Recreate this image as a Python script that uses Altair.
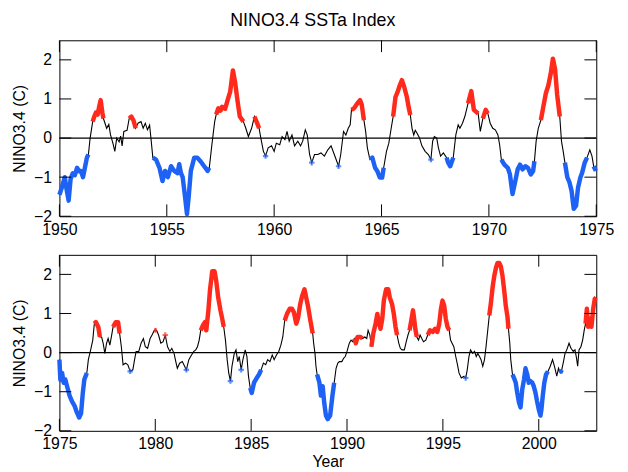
import pandas as pd
import altair as alt

# values (year, NINO3.4 anomaly in C)
top_years = [1950.00, 1950.12, 1950.25, 1950.33, 1950.43, 1950.52, 1950.62, 1950.72, 1950.82, 1950.92,
             1951.00, 1951.10, 1951.20, 1951.28, 1951.35, 1951.43, 1951.55, 1951.62, 1951.70, 1951.78,
             1951.85, 1951.92, 1952.00, 1952.05, 1952.20, 1952.30, 1952.38, 1952.50, 1952.58, 1952.67,
             1952.78, 1952.85, 1952.92, 1953.00, 1953.15, 1953.25, 1953.35, 1953.45, 1953.55, 1953.66,
             1953.80, 1953.90, 1954.00, 1954.10, 1954.20, 1954.28, 1954.35, 1954.50, 1954.66, 1954.80,
             1954.92, 1955.05, 1955.20, 1955.35, 1955.50, 1955.58, 1955.66, 1955.74, 1955.85, 1955.94,
             1956.02, 1956.12, 1956.28, 1956.42, 1956.58, 1956.74, 1956.90, 1956.98, 1957.10, 1957.23,
             1957.30, 1957.40, 1957.50, 1957.57, 1957.72, 1957.85, 1957.95, 1958.08, 1958.18, 1958.30,
             1958.40, 1958.57, 1958.68, 1958.80, 1958.95, 1959.08, 1959.18, 1959.30, 1959.38, 1959.50,
             1959.60, 1959.72, 1959.88, 1960.00, 1960.10, 1960.26, 1960.37, 1960.50, 1960.60, 1960.70,
             1960.83, 1960.95, 1961.10, 1961.23, 1961.33, 1961.45, 1961.54, 1961.65, 1961.75, 1961.88,
             1962.03, 1962.18, 1962.34, 1962.50, 1962.65, 1962.80, 1963.00, 1963.10, 1963.23, 1963.34,
             1963.45, 1963.54, 1963.60, 1963.72, 1963.88, 1964.00, 1964.08, 1964.18, 1964.26, 1964.34,
             1964.46, 1964.57, 1964.70, 1964.80, 1964.92, 1965.03, 1965.10, 1965.23, 1965.34, 1965.45,
             1965.54, 1965.65, 1965.75, 1965.85, 1965.95, 1966.06, 1966.18, 1966.26, 1966.34, 1966.42,
             1966.50, 1966.57, 1966.65, 1966.77, 1966.88, 1967.03, 1967.18, 1967.30, 1967.38, 1967.46,
             1967.57, 1967.65, 1967.75, 1967.88, 1968.03, 1968.10, 1968.20, 1968.34, 1968.46, 1968.57,
             1968.65, 1968.77, 1968.88, 1969.03, 1969.18, 1969.30, 1969.50, 1969.60, 1969.72, 1969.85,
             1969.95, 1970.06, 1970.18, 1970.30, 1970.42, 1970.50, 1970.58, 1970.72, 1970.88, 1970.98,
             1971.10, 1971.23, 1971.34, 1971.45, 1971.57, 1971.70, 1971.82, 1971.95, 1972.06, 1972.12,
             1972.20, 1972.30, 1972.42, 1972.52, 1972.65, 1972.77, 1972.88, 1972.98, 1973.08, 1973.18,
             1973.30, 1973.38, 1973.46, 1973.54, 1973.65, 1973.75, 1973.85, 1973.95, 1974.06, 1974.15,
             1974.26, 1974.34, 1974.46, 1974.57, 1974.70, 1974.80, 1974.88, 1974.98]
top_vals = [-1.45, -1.25, -1.00, -1.30, -1.60, -1.05, -0.90, -0.95, -0.76, -0.85,
            -0.84, -1.00, -0.72, -0.50, -0.42, 0.00, 0.42, 0.55, 0.65, 0.60,
            0.80, 0.97, 0.65, 0.50, 0.25, 0.35, 0.08, -0.15, -0.34, 0.00,
            -0.10, 0.05, -0.20, 0.17, 0.20, 0.50, 0.55, 0.45, 0.25, 0.38,
            0.42, 0.25, 0.38, 0.21, 0.33, -0.10, -0.50, -0.55, -0.76, -1.10,
            -0.84, -1.00, -0.72, -0.84, -0.90, -0.67, -0.90, -1.00, -1.50, -1.94,
            -1.50, -0.84, -0.50, -0.50, -0.60, -0.72, -0.84, -0.76, -0.17, 0.42,
            0.60, 0.76, 0.70, 0.80, 0.75, 1.00, 1.18, 1.73, 1.43, 0.93,
            0.55, 0.42, 0.25, 0.04, 0.25, 0.55, 0.42, 0.25, 0.00, -0.34,
            -0.46, -0.25, -0.20, -0.34, -0.13, -0.17, 0.04, -0.04, 0.17, -0.08,
            0.08, -0.20, -0.08, -0.20, -0.08, 0.21, 0.08, -0.42, -0.63, -0.42,
            -0.42, -0.38, -0.46, -0.30, -0.20, -0.42, -0.72, -0.42, 0.17, 0.08,
            0.25, 0.34, 0.72, 0.76, 0.89, 0.97, 0.85, 0.46, 0.17, -0.25,
            -0.55, -0.50, -0.76, -0.84, -1.01, -1.01, -0.76, -0.34, -0.13, 0.25,
            0.55, 1.05, 1.18, 1.35, 1.48, 1.30, 1.05, 0.80, 0.59, 0.25,
            0.08, 0.20, 0.13, 0.00, -0.20, -0.34, -0.42, -0.55, -0.08, 0.04,
            0.00, -0.25, -0.46, -0.38, -0.50, -0.63, -0.72, -0.50, 0.08, 0.34,
            0.25, 0.38, 0.55, 0.89, 1.20, 0.72, 0.63, 0.17, 0.50, 0.72,
            0.63, 0.38, 0.25, 0.21, 0.08, -0.17, -0.55, -0.68, -0.76, -0.93,
            -1.43, -1.10, -0.80, -0.68, -0.80, -0.72, -0.76, -0.93, -0.84, -0.59,
            -0.08, 0.25, 0.46, 0.76, 1.14, 1.35, 1.65, 2.03, 1.77, 1.10,
            0.55, -0.08, -0.34, -0.63, -1.00, -1.13, -1.35, -1.81, -1.73, -1.27,
            -1.01, -0.89, -0.63, -0.50, -0.30, -0.46, -0.72, -0.84]

bot_years = [1975.00, 1975.05, 1975.14, 1975.22, 1975.30, 1975.40, 1975.53, 1975.65, 1975.79, 1975.91,
             1976.03, 1976.13, 1976.22, 1976.30, 1976.43, 1976.51, 1976.63, 1976.74, 1976.82, 1976.90,
             1977.03, 1977.11, 1977.20, 1977.28, 1977.37, 1977.46, 1977.54, 1977.63, 1977.71, 1977.80,
             1977.94, 1978.06, 1978.14, 1978.23, 1978.32, 1978.45, 1978.57, 1978.69, 1978.83, 1978.92,
             1979.00, 1979.14, 1979.26, 1979.38, 1979.48, 1979.60, 1979.73, 1979.83, 1979.95, 1980.07,
             1980.17, 1980.29, 1980.41, 1980.52, 1980.64, 1980.76, 1980.86, 1980.98, 1981.07, 1981.15,
             1981.27, 1981.41, 1981.53, 1981.62, 1981.75, 1981.89, 1982.01, 1982.11, 1982.20, 1982.29,
             1982.37, 1982.49, 1982.59, 1982.66, 1982.77, 1982.85, 1982.97, 1983.09, 1983.18, 1983.28,
             1983.40, 1983.49, 1983.57, 1983.66, 1983.75, 1983.83, 1983.92, 1984.00, 1984.12, 1984.21,
             1984.30, 1984.38, 1984.48, 1984.57, 1984.69, 1984.78, 1984.86, 1984.95, 1985.03, 1985.15,
             1985.29, 1985.41, 1985.52, 1985.64, 1985.76, 1985.86, 1985.98, 1986.10, 1986.20, 1986.32,
             1986.44, 1986.55, 1986.65, 1986.75, 1986.87, 1987.01, 1987.13, 1987.23, 1987.35, 1987.44,
             1987.56, 1987.66, 1987.78, 1987.87, 1987.96, 1988.09, 1988.21, 1988.26, 1988.33, 1988.38,
             1988.44, 1988.56, 1988.64, 1988.73, 1988.81, 1988.90, 1988.99, 1989.12, 1989.24, 1989.33,
             1989.43, 1989.52, 1989.60, 1989.73, 1989.83, 1989.91, 1990.00, 1990.12, 1990.21, 1990.29,
             1990.38, 1990.46, 1990.55, 1990.69, 1990.81, 1990.93, 1991.03, 1991.10, 1991.19, 1991.27,
             1991.37, 1991.49, 1991.58, 1991.67, 1991.75, 1991.84, 1991.92, 1992.04, 1992.15, 1992.23,
             1992.35, 1992.44, 1992.53, 1992.61, 1992.70, 1992.78, 1992.87, 1992.99, 1993.09, 1993.18,
             1993.26, 1993.35, 1993.44, 1993.50, 1993.56, 1993.64, 1993.73, 1993.81, 1993.90, 1993.99,
             1994.11, 1994.21, 1994.33, 1994.47, 1994.59, 1994.71, 1994.81, 1994.90, 1994.98, 1995.07,
             1995.15, 1995.24, 1995.33, 1995.40, 1995.48, 1995.57, 1995.67, 1995.76, 1995.84, 1995.96,
             1996.08, 1996.19, 1996.27, 1996.36, 1996.44, 1996.56, 1996.65, 1996.74, 1996.82, 1996.91,
             1996.99, 1997.08, 1997.17, 1997.25, 1997.34, 1997.42, 1997.51, 1997.59, 1997.68, 1997.77,
             1997.85, 1997.94, 1998.02, 1998.11, 1998.20, 1998.28, 1998.37, 1998.42, 1998.49, 1998.54,
             1998.63, 1998.71, 1998.80, 1998.88, 1998.97, 1999.05, 1999.14, 1999.23, 1999.31, 1999.40,
             1999.48, 1999.57, 1999.66, 1999.74, 1999.83, 1999.91, 2000.00, 2000.09, 2000.14, 2000.21,
             2000.29, 2000.38, 2000.48, 2000.60, 2000.72, 2000.82, 2000.94, 2001.03, 2001.12, 2001.20,
             2001.29, 2001.37, 2001.46, 2001.58, 2001.68, 2001.80, 2001.89, 2001.97, 2002.03, 2002.10,
             2002.20, 2002.29, 2002.37, 2002.44, 2002.51, 2002.58, 2002.66, 2002.75, 2002.84, 2002.92,
             2002.99]
bot_vals = [-0.18, -0.70, -0.52, -0.77, -0.68, -0.86, -1.10, -1.24, -1.36, -1.53,
            -1.66, -1.55, -1.03, -0.69, -0.52, -0.18, 0.07, 0.32, 0.74, 0.78,
            0.65, 0.40, 0.40, 0.24, -0.02, 0.24, 0.36, 0.19, 0.40, 0.66,
            0.78, 0.78, 0.49, 0.15, -0.31, -0.27, -0.31, -0.48, -0.44, -0.18,
            0.03, 0.03, 0.24, 0.36, 0.15, 0.11, 0.36, 0.45, 0.57, 0.57,
            0.45, 0.24, 0.28, 0.45, 0.15, 0.03, 0.11, -0.02, -0.23, -0.40,
            -0.27, -0.23, -0.35, -0.44, -0.18, -0.06, 0.03, 0.07, 0.15, 0.32,
            0.57, 0.70, 0.78, 0.57, 1.08, 1.58, 2.08, 2.08, 1.83, 1.41,
            1.08, 0.87, 0.66, 0.32, -0.18, -0.52, -0.73, -0.35, -0.02, 0.07,
            -0.23, -0.10, -0.44, -0.18, 0.07, -0.10, -0.60, -0.90, -1.03, -0.77,
            -0.65, -0.56, -0.44, -0.27, -0.31, -0.18, -0.23, -0.06, -0.18, -0.06,
            0.03, 0.19, 0.40, 0.82, 0.99, 1.12, 1.12, 1.03, 0.74, 0.87,
            1.24, 1.45, 1.62, 1.41, 1.20, 0.82, 0.49, 0.24, -0.02, -0.35,
            -0.56, -0.77, -1.10, -0.86, -1.28, -1.61, -1.70, -1.61, -1.10, -0.77,
            -0.40, -0.27, -0.23, -0.23, -0.14, -0.10, 0.03, 0.24, 0.32, 0.28,
            0.36, 0.24, 0.40, 0.40, 0.36, 0.40, 0.36, 0.57, 0.45, 0.15,
            0.49, 0.74, 0.99, 0.74, 0.61, 0.87, 1.33, 1.62, 1.62, 1.41,
            1.24, 0.99, 0.66, 0.45, 0.24, 0.11, 0.07, 0.07, 0.28, 0.45,
            0.57, 0.82, 1.08, 0.87, 0.61, 0.40, 0.32, 0.45, 0.36, 0.28,
            0.32, 0.45, 0.57, 0.53, 0.61, 0.53, 0.74, 1.12, 1.33, 1.20,
            0.87, 0.66, 0.57, 0.32, 0.24, 0.15, -0.10, -0.31, -0.52, -0.65,
            -0.61, -0.65, -0.44, -0.10, 0.07, -0.02, 0.03, -0.10, -0.02, -0.10,
            -0.18, -0.35, -0.18, 0.15, 0.57, 0.95, 1.29, 1.66, 1.96, 2.17,
            2.29, 2.29, 2.21, 1.96, 1.58, 1.20, 0.91, 0.61, 0.24, -0.18,
            -0.56, -0.65, -0.77, -1.03, -1.28, -1.40, -0.94, -0.69, -0.40, -0.56,
            -0.77, -0.73, -0.77, -0.86, -1.03, -1.24, -1.45, -1.61, -1.45, -1.10,
            -0.77, -0.56, -0.48, -0.35, -0.18, -0.35, -0.60, -0.40, -0.52, -0.44,
            -0.23, -0.02, 0.07, 0.24, 0.11, 0.03, 0.07, -0.14, -0.35, 0.07,
            0.15, 0.32, 0.57, 0.74, 1.12, 0.66, 0.87, 0.66, 1.12, 1.37,
            1.41]

# warm / cold event periods as drawn in the picture
warm_top = [[1951.5, 1952.06], [1953.24, 1953.56], [1957.25, 1958.6], [1959.05, 1959.31],
            [1963.58, 1964.2], [1965.52, 1966.36], [1968.95, 1969.52], [1969.7, 1969.97],
            [1972.38, 1973.32]]
cold_top = [[1950.0, 1951.36], [1954.34, 1957.0], [1959.58, 1959.62], [1961.7, 1961.8],
            [1963.0, 1963.02], [1964.45, 1965.12], [1967.28, 1967.32], [1968.0, 1968.36],
            [1970.56, 1972.14], [1973.52, 1974.6], [1974.86, 1975.0]]
warm_bot = [[1976.8, 1977.12], [1977.78, 1978.16], [1979.93, 1980.1], [1980.5, 1980.55],
            [1982.35, 1983.6], [1986.7, 1988.22], [1990.36, 1990.82], [1991.26, 1992.62],
            [1993.24, 1993.66], [1994.2, 1995.35], [1997.38, 1998.45], [2002.4, 2003.0]]
cold_bot = [[1975.0, 1976.45], [1978.66, 1978.72], [1981.6, 1981.65], [1983.9, 1983.95],
            [1984.46, 1984.5], [1984.93, 1985.55], [1988.42, 1989.36], [1996.17, 1996.21],
            [1998.6, 2000.5], [2001.1, 2001.22]]

RED = '#ff2a1c'
BLUE = '#1e62f5'
W, H = 543, 178
TK = 12
FONT = 'Liberation Sans'


def build(years, vals, warm, cold):
    df = pd.DataFrame({'year': years, 'value': vals})
    df['seg'] = ''
    df['kind'] = ''
    for name, events in (('warm', warm), ('cold', cold)):
        for i, (a, b) in enumerate(events):
            m = (df['year'] >= a) & (df['year'] <= b)
            df.loc[m, 'seg'] = name + str(i)
            df.loc[m, 'kind'] = name
    df['n'] = df.groupby('seg')['seg'].transform('size')
    return df


def panel(df, x0, x1, xticks, xtitle):
    xs = alt.Scale(domain=[x0, x1], nice=False, zero=False)
    ys = alt.Scale(domain=[-2, 2.5], nice=False, zero=False)
    xax = alt.Axis(values=xticks, format='d', ticks=False, domain=False, grid=False,
                   labelFlush=False, labelPadding=5, titlePadding=2, title=xtitle)
    yax = alt.Axis(values=[-2, -1, 0, 1, 2], ticks=False, domain=False, grid=False,
                   labelFlush=False, labelPadding=8, titlePadding=6, title='NINO3.4 (C)')
    color = alt.Color('kind:N', scale=alt.Scale(domain=['warm', 'cold'], range=[RED, BLUE]), legend=None)

    # every layer carries the same axis definition so the shared axes merge cleanly
    x = alt.X('year:Q', scale=xs, axis=xax)
    y = alt.Y('value:Q', scale=ys, axis=yax)
    xt_enc = alt.X('t:Q', scale=xs, axis=xax)
    yt_enc = alt.Y('t:Q', scale=ys, axis=yax)

    events = df[df['seg'] != '']
    lone = events[events['n'] == 1]

    black = alt.Chart(df).mark_line(color='black', strokeWidth=1.1).encode(x=x, y=y)
    zero = alt.Chart(pd.DataFrame({'t': [0]})).mark_rule(color='black', strokeWidth=1.2).encode(y=yt_enc)
    thick = alt.Chart(events).mark_line(strokeWidth=4.5, strokeJoin='round').encode(
        x=x, y=y, color=color, detail='seg:N')
    dots = alt.Chart(lone).mark_point(shape='cross', filled=True, size=30).encode(
        x=x, y=y, color=color)

    xt = pd.DataFrame({'t': xticks})
    yt = pd.DataFrame({'t': [-2, -1, 0, 1, 2]})
    tb = alt.Chart(xt).mark_rule(color='black').encode(x=xt_enc, y=alt.value(H - TK), y2=alt.value(H))
    tt = alt.Chart(xt).mark_rule(color='black').encode(x=xt_enc, y=alt.value(0), y2=alt.value(TK))
    tl = alt.Chart(yt).mark_rule(color='black').encode(y=yt_enc, x=alt.value(0), x2=alt.value(TK))
    tr = alt.Chart(yt).mark_rule(color='black').encode(y=yt_enc, x=alt.value(W - TK), x2=alt.value(W))

    return alt.layer(black, zero, thick, dots, tb, tt, tl, tr).properties(width=W, height=H)


top = panel(build(top_years, top_vals, warm_top, cold_top), 1950, 1975,
            [1950, 1955, 1960, 1965, 1970, 1975], None)
bottom = panel(build(bot_years, bot_vals, warm_bot, cold_bot), 1975, 2003,
               [1975, 1980, 1985, 1990, 1995, 2000], 'Year')

chart = alt.vconcat(top, bottom, spacing=16).properties(
    title=alt.TitleParams('NINO3.4 SSTa Index', font=FONT, fontSize=18, fontWeight='normal',
                          color='black', anchor='middle', offset=9),
    padding={'left': 3, 'top': 2, 'right': 5, 'bottom': 0},
).configure_view(
    stroke='black', strokeWidth=1
).configure_axis(
    labelFont=FONT, labelFontSize=16, labelColor='black',
    titleFont=FONT, titleFontSize=16, titleFontWeight='normal', titleColor='black'
)

chart.save('out.html', embed_options={'renderer': 'svg', 'actions': False})
